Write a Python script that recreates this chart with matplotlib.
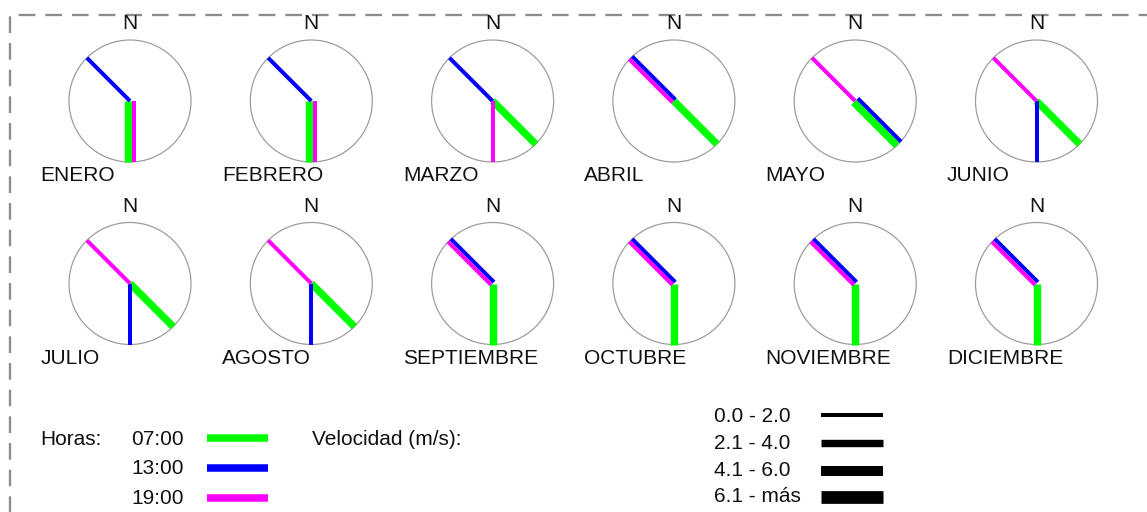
import numpy as np
import matplotlib
matplotlib.use("Agg")
import matplotlib.pyplot as plt
from matplotlib.patches import Circle
from matplotlib.transforms import offset_copy

plt.rcParams['font.family'] = ['Liberation Sans', 'DejaVu Sans']
plt.rcParams['lines.scale_dashes'] = False

# ---------------- data ----------------
months = ['ENERO', 'FEBRERO', 'MARZO', 'ABRIL', 'MAYO', 'JUNIO',
          'JULIO', 'AGOSTO', 'SEPTIEMBRE', 'OCTUBRE', 'NOVIEMBRE', 'DICIEMBRE']
hours = ['07:00', '13:00', '19:00']
hour_colors = ['#00ff00', '#0000ff', '#ff00ff']

# wind direction (compass degrees, 0 = N, clockwise) per hour
dir_07 = [180, 180, 135, 135, 135, 135, 135, 135, 180, 180, 180, 180]
dir_13 = [315, 315, 315, 315, 135, 180, 180, 180, 315, 315, 315, 315]
dir_19 = [180, 180, 180, 315, 315, 315, 315, 315, 315, 315, 315, 315]

# speed class index (0: 0.0-2.0, 1: 2.1-4.0, 2: 4.1-6.0, 3: 6.1-más)
spd_07 = [1, 1, 1, 1, 1, 1, 1, 1, 1, 1, 1, 1]
spd_13 = [0, 0, 0, 0, 0, 0, 0, 0, 0, 0, 0, 0]
spd_19 = [0, 0, 0, 0, 0, 0, 0, 0, 0, 0, 0, 0]

speed_labels = ['0.0 - 2.0', '2.1 - 4.0', '4.1 - 6.0', '6.1 - más']

# ---------------- layout ----------------
W, H = 1147, 512
DPI = 100
fig = plt.figure(figsize=(W / DPI, H / DPI), dpi=DPI, facecolor='white')

PX = 72.0 / DPI                       # points per pixel
class_width_px = [4.0, 7.4, 10.0, 12.7]
col_x0, col_dx = 130.0, 181.3
row_y = [101.0, 283.5]
radius = 61.0
FS = 15
TXT = '#111111'

# background overlay axes in pixel coordinates
bg = fig.add_axes([0, 0, 1, 1])
bg.set_xlim(0, W)
bg.set_ylim(H, 0)
bg.axis('off')

# dashed frame
bg.plot([10, 10, W + 5], [H + 5, 14.5, 14.5], color='#8c8c8c', lw=2.3 * PX,
        dashes=(12.0, 7.2), solid_joinstyle='miter')

dirs = [dir_07, dir_13, dir_19]
spds = [spd_07, spd_13, spd_19]

for i, m in enumerate(months):
    r, c = divmod(i, 6)
    cx = col_x0 + c * col_dx
    cy = row_y[r]
    bg.add_patch(Circle((cx, cy), radius, fill=False, edgecolor='#9a9a9a',
                        lw=1.2 * PX, zorder=1))
    ax = fig.add_axes([(cx - radius) / W, 1 - (cy + radius) / H,
                       2 * radius / W, 2 * radius / H], projection='polar')
    ax.set_theta_zero_location('N')
    ax.set_theta_direction(-1)
    ax.set_ylim(0, 1)
    ax.set_xticks([])
    ax.set_yticks([])
    ax.grid(False)
    for sp in ax.spines.values():
        sp.set_visible(False)
    ax.patch.set_alpha(0)

    # group hours with the same direction and place them side by side
    groups = {}
    for h in range(3):
        groups.setdefault(dirs[h][i], []).append(h)
    for d, hs in groups.items():
        widths = [class_width_px[spds[h][i]] for h in hs]
        total = sum(widths)
        pos = -total / 2
        phi = np.deg2rad(d - 90)
        for h, w in zip(hs, widths):
            off = pos + w / 2
            pos += w
            tr = offset_copy(ax.transData, fig=fig,
                             x=off * np.sin(phi), y=off * np.cos(phi), units='dots')
            th = np.deg2rad(d)
            ax.plot([th, th], [0, 1], color=hour_colors[h], lw=w * PX,
                    solid_capstyle='butt', transform=tr, clip_on=False, zorder=3)

    bg.text(cx, cy - 72, 'N', ha='center', va='baseline', fontsize=FS, color=TXT)
    bg.text(cx - 89.5, cy + 80, m, ha='left', va='baseline', fontsize=FS, color=TXT)

# ---------------- legend: hours ----------------
bg.text(40.5, 445, 'Horas:', ha='left', va='baseline', fontsize=FS, color=TXT)
hour_base = [445, 474.5, 504]
hour_line_y = [437.5, 467.5, 497.5]
for h in range(3):
    bg.text(131.5, hour_base[h], hours[h], ha='left', va='baseline', fontsize=FS, color=TXT)
    bg.plot([207, 268], [hour_line_y[h]] * 2, color=hour_colors[h], lw=7.5 * PX,
            solid_capstyle='butt')

bg.text(312, 445, 'Velocidad (m/s):', ha='left', va='baseline', fontsize=FS, color=TXT)

# ---------------- legend: speed ----------------
spd_base = [421.5, 449.3, 476.5, 502]
spd_line_y = [415.3, 443.3, 471.0, 496.5]
for k, lab in enumerate(speed_labels):
    bg.text(714.5, spd_base[k], lab, ha='left', va='baseline', fontsize=FS, color=TXT)
    bg.plot([821, 882.5], [spd_line_y[k]] * 2, color='black',
            lw=class_width_px[k] * PX, solid_capstyle='butt')

fig.savefig('out.png', dpi=DPI, facecolor='white')
